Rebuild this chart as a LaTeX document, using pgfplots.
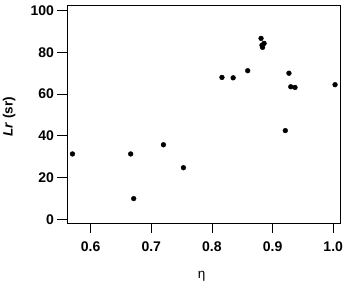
\documentclass[border=0pt]{standalone}
\usepackage{fontspec}
\setmainfont{Liberation Sans}
\usepackage{pgfplots}
\pgfplotsset{compat=1.18}
\begin{document}
\begin{tikzpicture}
\useasboundingbox (0,0) rectangle (346pt,284pt);
\begin{axis}[
  at={(67pt,61pt)}, anchor=south west,
  width=273.5pt, height=218pt, scale only axis,
  xmin=0.561, xmax=1.012, ymin=-1.8, ymax=102.7,
  xtick={0.6,0.7,0.8,0.9,1.0}, ytick={0,20,40,60,80,100},
  xticklabel style={/pgf/number format/fixed, /pgf/number format/fixed zerofill, /pgf/number format/precision=1, yshift=-6pt},
  tick align=outside, xtick pos=left, ytick pos=left,
  major tick length=9.5pt,
  tick style={black, line width=0.8pt},
  axis line style={line width=0.8pt},
  ticklabel style={font=\fontsize{14}{16}\selectfont\bfseries},
  /pgf/number format/assume math mode=true,
  xlabel={η},
  xlabel style={at={(axis description cs:0.4925,-0.245)}, anchor=center, font=\fontsize{13.5}{16}\selectfont},
  ylabel={\textbf{\textit{Lr} (sr)}},
  ylabel style={at={(axis description cs:-0.212,0.486)}, anchor=center, font=\fontsize{13.5}{16}\selectfont},
]
\addplot[only marks, mark=*, mark size=2.4pt, black] coordinates {
(0.570,31.3)
(0.666,31.3)
(0.671,9.9)
(0.720,35.7)
(0.753,24.7)
(0.8165,68.0)
(0.835,67.8)
(0.859,71.2)
(0.881,86.7)
(0.886,84.3)
(0.8825,83.4)
(0.8835,82.4)
(0.927,70.0)
(0.930,63.5)
(0.937,63.2)
(0.921,42.5)
(1.003,64.5)
};
\end{axis}
\end{tikzpicture}
\end{document}
